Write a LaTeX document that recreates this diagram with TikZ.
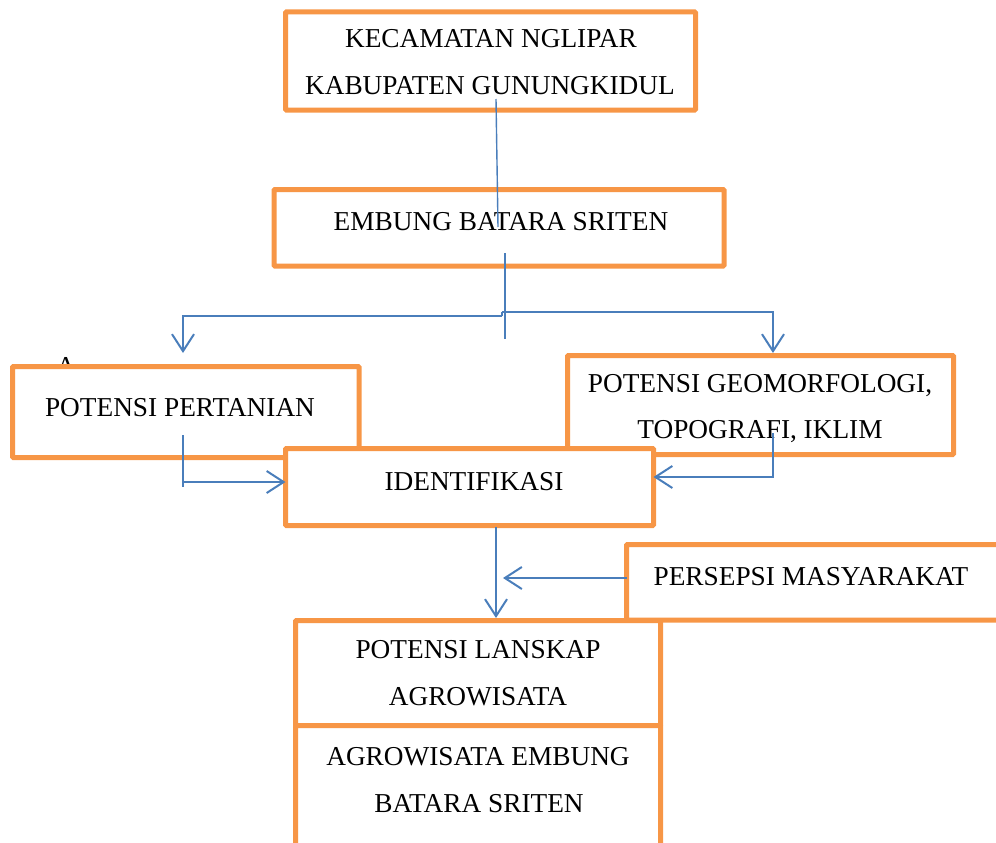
\documentclass[tikz,border=0pt]{standalone}
\usepackage{fontspec}
\setmainfont{Liberation Serif}
\usetikzlibrary{arrows.meta}
\definecolor{boxorange}{HTML}{F79646}
\definecolor{lineblue}{HTML}{4A7EBB}
\begin{document}
\begin{tikzpicture}[x=1pt,y=-1pt,
  box/.style={draw=boxorange,line width=5pt,fill=white,rectangle,inner sep=0pt,outer sep=0pt,rounded corners=1pt},
  lbl/.style={anchor=base,inner sep=0pt,font=\fontsize{27.3}{30}\selectfont},
  conn/.style={draw=lineblue,line width=2pt},
  thinconn/.style={draw=lineblue,line width=1.4pt},
  arr/.style={conn,-{Straight Barb[length=17pt,width=22pt]}}
]
\useasboundingbox (0,0) rectangle (996,843);
\clip (0,0) rectangle (996,843);

% boxes
\node[box,minimum width=410pt,minimum height=98pt] (kec) at (490.5,61) {};
\node[box,minimum width=450pt,minimum height=76.5pt] (emb) at (499,227.75) {};
\node[lbl] (frag) at (66,375) {A};
\node[box,minimum width=346.5pt,minimum height=91pt] (tani) at (185.75,412) {};
\node[box,minimum width=386pt,minimum height=99pt] (geo) at (760.5,405) {};
\node[box,minimum width=368pt,minimum height=77pt] (ident) at (469.5,487) {};
\node[box,minimum width=383.5pt,minimum height=75.5pt] (pers) at (818.25,582.25) {};
\node[box,minimum width=365pt,minimum height=105pt] (lans) at (478,673) {};
\node[box,minimum width=365pt,minimum height=134.5pt] (agro) at (478,792.75) {};

% texts
\node[lbl] (t1a) at (491,48) {KECAMATAN NGLIPAR};
\node[lbl] (t1b) at (490,95) {KABUPATEN GUNUNGKIDUL};
\node[lbl] (t2) at (501,230) {EMBUNG BATARA SRITEN};
\node[lbl] (t3) at (180,416) {POTENSI PERTANIAN};
\node[lbl] (t4a) at (760,392) {POTENSI GEOMORFOLOGI,};
\node[lbl] (t4b) at (760,438) {TOPOGRAFI, IKLIM};
\node[lbl] (t5) at (474,490) {IDENTIFIKASI};
\node[lbl] (t6) at (811,585) {PERSEPSI MASYARAKAT};
\node[lbl] (t7a) at (478,658) {POTENSI LANSKAP};
\node[lbl] (t7b) at (478,705) {AGROWISATA};
\node[lbl] (t8a) at (478,765) {AGROWISATA EMBUNG};
\node[lbl] (t8b) at (479,812) {BATARA SRITEN};

% connector points
\coordinate (kecout) at (496,99);
\coordinate (embin) at (498,227);
\coordinate (embout) at (505,253);
\coordinate (stemend) at (505,339);
\coordinate (splitL) at (502,316);
\coordinate (splitR) at (502,312);
\coordinate (leftturn) at (183,316);
\coordinate (lefttip) at (183,353);
\coordinate (rightturn) at (773,312);
\coordinate (righttip) at (773,353);
\coordinate (taniout) at (183,435);
\coordinate (tanibend) at (183,482);
\coordinate (tanitail) at (183,487);
\coordinate (geoout) at (773,433);
\coordinate (geobend) at (773,477);
\coordinate (identout) at (496,527);
\coordinate (lanstip) at (496,618);
\coordinate (perstip) at (503,578);

% connectors
\draw[thinconn] (kecout) -- (embin);
\draw[conn] (embout) -- (stemend);
\draw[arr] (splitL) -- (leftturn) -- (lefttip);
\draw[conn] (splitL) -- (splitR);
\draw[arr] (splitR) -- (rightturn) -- (righttip);
\draw[conn] (taniout) -- (tanitail);
\draw[arr] (tanibend) -- (ident.west |- tanibend);
\draw[arr] (geoout) -- (geobend) -- (ident.east |- geobend);
\draw[arr] (identout) -- (lanstip);
\draw[arr] (pers.west |- perstip) -- (perstip);
\end{tikzpicture}
\end{document}
